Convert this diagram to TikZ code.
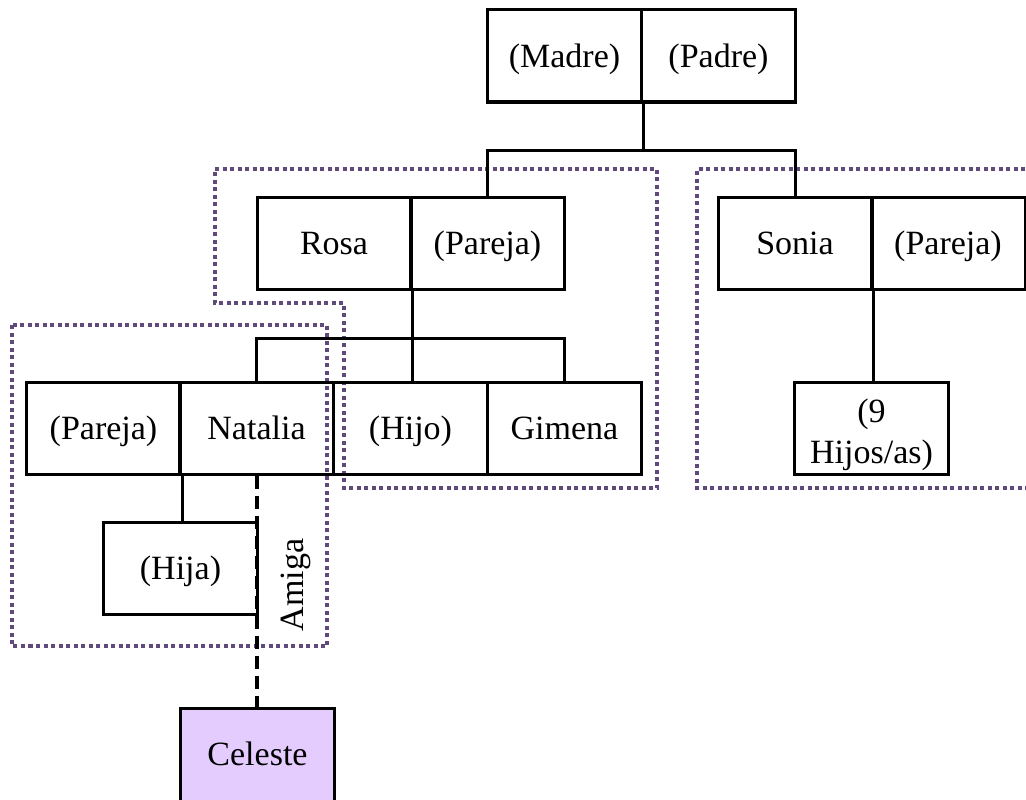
\documentclass[tikz,border=0pt]{standalone}
\usepackage{fontspec}
\setmainfont{Liberation Serif}
\definecolor{grp}{RGB}{96,74,123}
\definecolor{celfill}{RGB}{229,204,255}
\tikzset{
  person/.style={draw=black, line width=3pt, rectangle, minimum width=154pt, minimum height=92pt, inner sep=0pt, font=\fontsize{34}{41}\selectfont, align=center, text height=22pt, text depth=0pt},
  link/.style={draw=black, line width=3pt},
  friend/.style={draw=black, line width=4pt, dash pattern=on 13pt off 7pt},
  grpbox/.style={draw=grp, line width=3.5pt, dash pattern=on 4pt off 3.5pt},
}
\begin{document}
\begin{tikzpicture}[x=1pt,y=-1pt]
\useasboundingbox (0,0) rectangle (1026,800);
% groups
\draw[grpbox] (215,169) -- (657,169) -- (657,488) -- (344,488) -- (344,303) -- (215,303) -- cycle;
\draw[grpbox] (12,325) rectangle (327,646);
\draw[grpbox] (1040,169) -- (697,169) -- (697,488) -- (1040,488);
% people
\node[person] (madre) at (564.5,56) {(Madre)};
\node[person] (padre) at (718.5,56) {(Padre)};
\node[person] (rosa) at (334,243) {Rosa};
\node[person] (rpareja) at (487.5,243) {(Pareja)};
\node[person] (sonia) at (795,243) {Sonia};
\node[person] (spareja) at (948,243) {(Pareja)};
\node[person] (npareja) at (103.5,428) {(Pareja)};
\node[person] (natalia) at (256.5,428) {Natalia};
\node[person] (hijo) at (410.5,428) {(Hijo)};
\node[person] (gimena) at (564.5,428) {Gimena};
\node[person] (hija) at (180.5,568) {(Hija)};
\node[person, text height=69pt] (hijos9) at (871.5,428.5) {(9\\Hijos/as)};
\node[person, fill=celfill, minimum height=120pt, text depth=28pt] (celeste) at (257.5,768) {Celeste};
% connectors
\coordinate (bar1) at (642,150);
\coordinate (bar2) at (411,338);
\draw[link] (madre.south east) -- (madre.south east |- bar1);
\draw[link] (rpareja.north) -- (rpareja.north |- bar1) -- (sonia.north |- bar1) -- (sonia.north);
\draw[link] (rosa.south east) -- (rosa.south east |- hijo.north);
\draw[link] (natalia.north) -- (natalia.north |- bar2) -- (gimena.north |- bar2) -- (gimena.north);
\draw[link] (npareja.south east) -- (npareja.south east |- hija.north);
\draw[link] (sonia.south east) -- (sonia.south east |- hijos9.north);
\draw[friend] (natalia.south) -- (natalia.south |- celeste.north);
\node[rotate=90, anchor=base, font=\fontsize{34}{41}\selectfont] (amiga) at (303,585) {Amiga};
\end{tikzpicture}
\end{document}
